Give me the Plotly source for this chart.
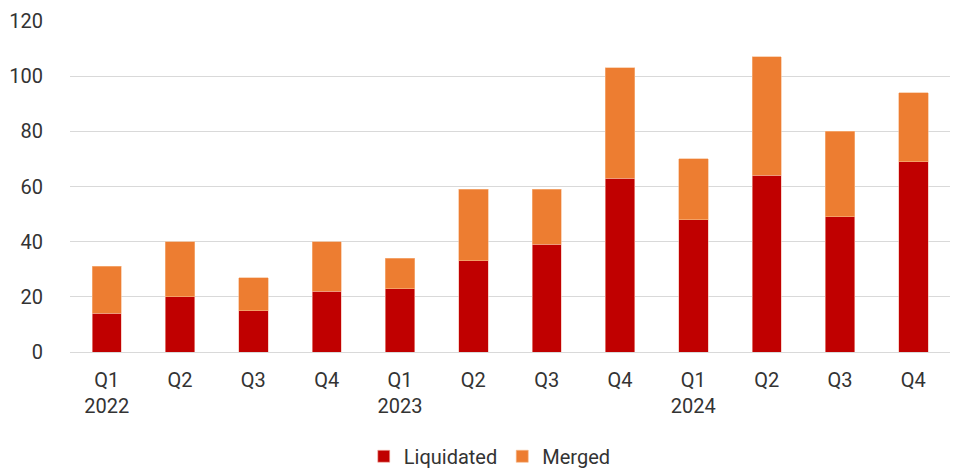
import plotly.graph_objects as go

quarters = ["Q1", "Q2", "Q3", "Q4", "Q1", "Q2", "Q3", "Q4", "Q1", "Q2", "Q3", "Q4"]
years = ["2022", "", "", "", "2023", "", "", "", "2024", "", "", ""]
liquidated = [14, 20, 15, 22, 23, 33, 39, 63, 48, 64, 49, 69]
merged = [17, 20, 12, 18, 11, 26, 20, 40, 22, 43, 31, 25]

x_ids = [f"{q} {i}" for i, q in enumerate(quarters)]
tick_text = [q + ("<br>" + y if y else "") for q, y in zip(quarters, years)]

FONT = "Roboto, Arial, sans-serif"
FS = 20

fig = go.Figure()
fig.add_trace(go.Bar(x=x_ids, y=liquidated, name="Liquidated",
                     marker=dict(color="#C00000", line=dict(color="#F4B6A8", width=0.6))))
fig.add_trace(go.Bar(x=x_ids, y=merged, name="Merged",
                     marker=dict(color="#ED7D31", line=dict(color="#F7B98A", width=0.6))))

fig.update_layout(
    barmode="stack",
    bargap=0.6,
    width=954, height=469,
    margin=dict(l=70, r=4, t=21, b=117, autoexpand=False),
    plot_bgcolor="white", paper_bgcolor="white",
    font=dict(family=FONT, size=FS, color="#333333"),
    showlegend=True,
    legend=dict(orientation="h", x=0.477, xanchor="center", y=-0.315, yanchor="middle",
                font=dict(size=FS), traceorder="normal", itemwidth=30),
    xaxis=dict(tickmode="array", tickvals=x_ids, ticktext=tick_text, automargin=False,
               showgrid=False, showline=False, ticks="outside", ticklen=10,
               tickcolor="rgba(0,0,0,0)", tickfont=dict(size=FS)),
    yaxis=dict(range=[0, 120], tickvals=[0, 20, 40, 60, 80, 100, 120], automargin=False,
               showgrid=True, gridcolor="#D9D9D9", gridwidth=1,
               zeroline=True, zerolinecolor="#D9D9D9", zerolinewidth=1,
               ticks="outside", ticklen=22, tickcolor="rgba(0,0,0,0)",
               tickfont=dict(size=FS)),
)

fig.write_html("out.html", config={"displayModeBar": False},
               post_script="document.body.style.margin='0';document.body.style.overflow='hidden';")
